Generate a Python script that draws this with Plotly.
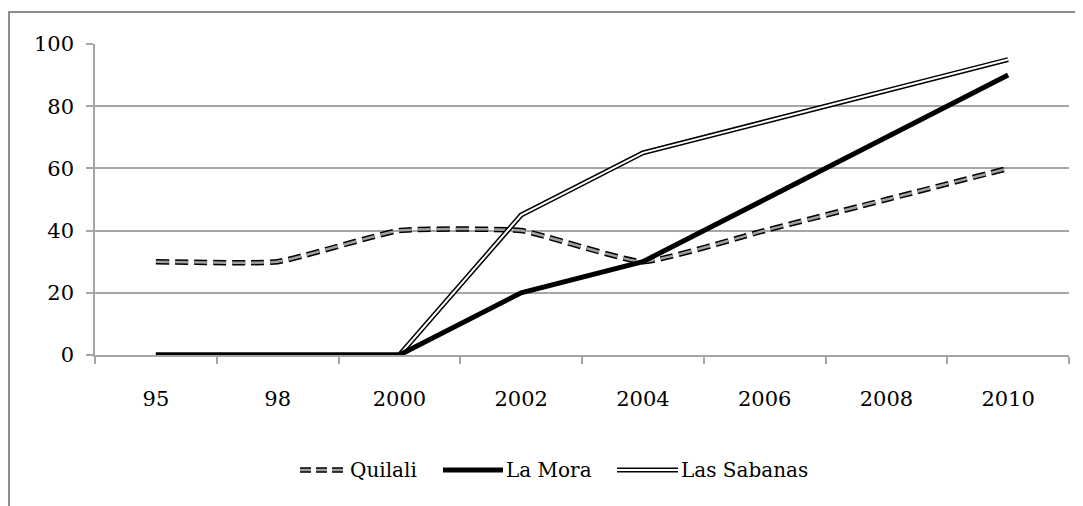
import plotly.graph_objects as go

years = ["95", "98", "2000", "2002", "2004", "2006", "2008", "2010"]
quilali = [30, 30, 40, 40, 30, 40, 50, 60]
la_mora = [0, 0, 0, 20, 30, 50, 70, 90]
las_sabanas = [0, 0, 0, 45, 65, 75, 85, 95]

# page renders the figure with an 8px body offset
OFF = 8
W, H = 1083 - OFF, 506 - OFF
L, R, T, B = 95 - OFF, 14, 44 - OFF, 151
PW, PH = W - L - R, H - T - B


def px(x):
    # absolute screen x -> paper
    return (x - OFF - L) / PW


def py(y):
    # absolute screen y -> paper
    return (H - B - (y - OFF)) / PH


FONT = "DejaVu Serif"
AXIS = "#a6a6a6"

fig = go.Figure()

# Quilali: dashed double line (black outline, grey core), smoothed
fig.add_trace(go.Scatter(
    x=years, y=quilali, mode="lines", name="Quilali",
    line=dict(color="black", width=5.5, dash="13px,6px", shape="spline", smoothing=0.4),
))
fig.add_trace(go.Scatter(
    x=years, y=quilali, mode="lines",
    line=dict(color="#a0a0a0", width=2.5, dash="13px,6px", shape="spline", smoothing=0.4),
))

# Las Sabanas: double line (black outline, white core)
fig.add_trace(go.Scatter(
    x=years, y=las_sabanas, mode="lines", name="Las Sabanas",
    line=dict(color="black", width=5),
))
fig.add_trace(go.Scatter(
    x=years, y=las_sabanas, mode="lines",
    line=dict(color="white", width=2),
))

# La Mora: thick solid black
fig.add_trace(go.Scatter(
    x=years, y=la_mora, mode="lines", name="La Mora",
    line=dict(color="black", width=5),
))

shapes = [
    # outer chart frame
    dict(type="rect", xref="paper", yref="paper",
         x0=px(9), x1=px(1083 + 20), y0=py(506 + 20), y1=py(12),
         line=dict(color="#8c8c8c", width=2), layer="below"),
]

# manual legend
ly = py(470)
legend_items = [
    ("Quilali", 300, 347, "quilali"),
    ("La Mora", 443, 503, "mora"),
    ("Las Sabanas", 617, 678, "sabanas"),
]
annotations = []
for name, x0, x1, kind in legend_items:
    seg = dict(type="line", xref="paper", yref="paper",
               x0=px(x0), x1=px(x1), y0=ly, y1=ly)
    if kind == "quilali":
        shapes.append(dict(seg, line=dict(color="black", width=5.5, dash="11px,5px")))
        shapes.append(dict(seg, line=dict(color="#a0a0a0", width=2.5, dash="11px,5px")))
    elif kind == "mora":
        shapes.append(dict(seg, line=dict(color="black", width=5)))
    else:
        shapes.append(dict(seg, line=dict(color="black", width=5)))
        shapes.append(dict(seg, line=dict(color="white", width=2)))
    annotations.append(dict(
        text=name, xref="paper", yref="paper", x=px(x1 + 1), y=ly,
        xanchor="left", yanchor="middle", showarrow=False,
        font=dict(family=FONT, size=20, color="black"),
    ))

fig.update_layout(
    width=W, height=H,
    margin=dict(l=L, r=R, t=T, b=B),
    paper_bgcolor="white", plot_bgcolor="white",
    showlegend=False,
    font=dict(family=FONT, color="black"),
    shapes=shapes,
    annotations=annotations,
    xaxis=dict(
        type="category", range=[-0.5, 7.5],
        showline=True, linecolor=AXIS, linewidth=1.5,
        ticks="outside", tickson="boundaries", ticklen=7, tickcolor=AXIS, tickwidth=1.5,
        showgrid=False, zeroline=False,
        ticklabelstandoff=24,
        tickfont=dict(family=FONT, size=21, color="black"),
    ),
    yaxis=dict(
        range=[0, 100], dtick=20,
        showline=True, linecolor=AXIS, linewidth=1.5,
        ticks="outside", ticklen=7, tickcolor=AXIS, tickwidth=1.5,
        showgrid=True, gridcolor=AXIS, gridwidth=1.5, zeroline=False,
        ticklabelstandoff=8,
        tickfont=dict(family=FONT, size=21, color="black"),
    ),
)

fig.write_html("out.html")
